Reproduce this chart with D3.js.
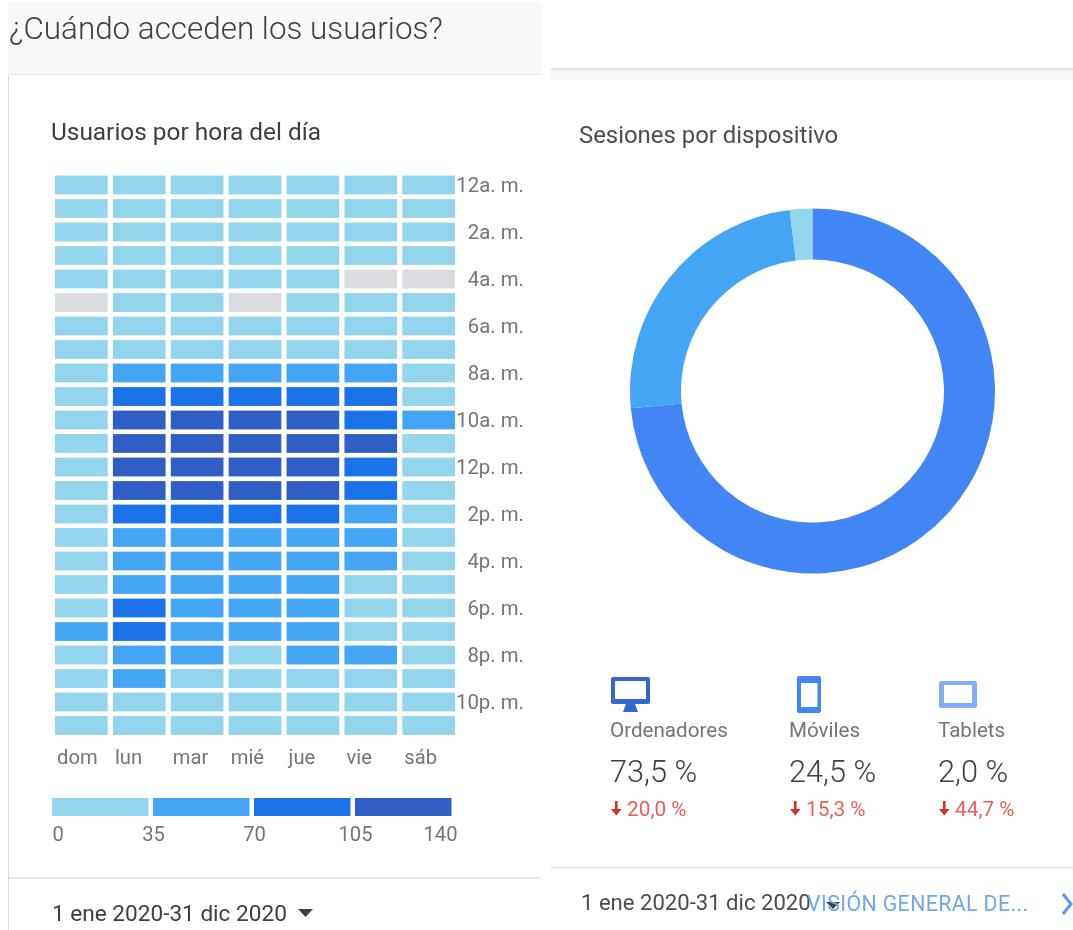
<!DOCTYPE html>
<html><head><meta charset="utf-8">
<script src="https://cdn.jsdelivr.net/npm/d3@7/dist/d3.min.js"></script>
<style>
html,body{margin:0;padding:0;background:#fff;overflow:hidden}
svg{display:block;filter:blur(0.4px)}
text{font-family:Roboto,sans-serif}
.axis path,.axis line{display:none}
</style></head><body>
<script>
const days = ["dom","lun","mar","mié","jue","vie","sáb"];
const hourLabels = ["12a. m.","2a. m.","4a. m.","6a. m.","8a. m.","10a. m.","12p. m.","2p. m.","4p. m.","6p. m.","8p. m.","10p. m."];
const hours = d3.range(24);
// users per hour (rows) and weekday (columns); values estimated from the colour bands
const row00 = [14,18,16,17,16,15,14];
const row01 = [10,12,11,12,11,10,10];
const row02 = [8,9,8,9,8,8,7];
const row03 = [5,6,5,5,6,4,3];
const row04 = [3,4,3,3,3,0,0];
const row05 = [0,4,4,0,3,2,3];
const row06 = [5,8,8,7,8,7,4];
const row07 = [9,28,27,26,28,25,8];
const row08 = [12,58,60,57,56,52,14];
const row09 = [15,95,98,96,94,88,20];
const row10 = [24,118,122,120,116,100,40];
const row11 = [22,125,128,124,122,110,26];
const row12 = [18,112,115,113,110,98,22];
const row13 = [16,110,112,109,108,95,18];
const row14 = [20,92,94,90,88,62,17];
const row15 = [19,66,64,65,63,55,15];
const row16 = [18,62,60,58,61,50,14];
const row17 = [17,58,55,54,52,33,13];
const row18 = [16,74,56,52,50,30,12];
const row19 = [36,78,50,48,47,28,14];
const row20 = [15,52,40,33,42,38,15];
const row21 = [14,38,30,32,31,26,16];
const row22 = [12,28,26,25,27,22,15];
const row23 = [11,18,16,17,16,19,14];
const usersByHour = [row00,row01,row02,row03,row04,row05,row06,row07,row08,row09,row10,row11,row12,row13,row14,row15,row16,row17,row18,row19,row20,row21,row22,row23];
const legendTicks = [0,35,70,105,140];
const legendColors = ["#93d5ed","#45a5f5","#1a73e8","#2f5ec4"];
const noDataColor = "#dadce0";

const devices = ["Ordenadores","Móviles","Tablets"];
const deviceShare = [73.5,24.5,2.0];
const deviceShareLabels = ["73,5 %","24,5 %","2,0 %"];
const deviceChangeLabels = ["20,0 %","15,3 %","44,7 %"];
const donutColors = ["#4285f4","#45a5f5","#93d5ed"];
const dateRange = "1 ene 2020-31 dic 2020";

const svg = d3.select("body").append("svg").attr("width",1073).attr("height",930);

// panels
svg.append("rect").attr("x",8).attr("y",2).attr("width",533).attr("height",73).attr("fill","#f8f9fa");
svg.append("rect").attr("x",9).attr("y",75).attr("width",532).attr("height",855).attr("fill","#fff");
svg.append("line").attr("x1",9).attr("x2",541).attr("y1",74.5).attr("y2",74.5).attr("stroke","#e6e8ea");
svg.append("line").attr("x1",8.5).attr("x2",8.5).attr("y1",75).attr("y2",930).attr("stroke","#dcdcdc");
svg.append("line").attr("x1",9).attr("x2",541).attr("y1",878).attr("y2",878).attr("stroke","#e4e4e4").attr("stroke-width",1.5);
svg.append("rect").attr("x",551).attr("y",68).attr("width",522).attr("height",2).attr("fill","#dfe1e4");
svg.append("rect").attr("x",551).attr("y",70).attr("width",522).attr("height",10).attr("fill","#f5f6f7");
svg.append("line").attr("x1",551).attr("x2",1073).attr("y1",867.5).attr("y2",867.5).attr("stroke","#e4e4e4").attr("stroke-width",1.5);

svg.append("text").attr("x",9).attr("y",39).attr("font-size",31.4).attr("font-weight",300).attr("fill","#3c4043").text("¿Cuándo acceden los usuarios?");
svg.append("text").attr("x",51).attr("y",140).attr("font-size",24.4).attr("fill","#3c4043").text("Usuarios por hora del día");
svg.append("text").attr("x",579).attr("y",143).attr("font-size",23.9).attr("fill","#4a4d50").text("Sesiones por dispositivo");

// heatmap
const x = d3.scaleBand().domain(d3.range(days.length)).range([52.4,457.6]).paddingInner(0.09).paddingOuter(0.045);
const y = d3.scaleBand().domain(hours).range([173.25,737.25]).paddingInner(0.2).paddingOuter(0.1);
const color = d3.scaleThreshold().domain([1,35,70,105]).range([noDataColor,...legendColors]);
const cells = hours.flatMap(h => days.map((d,i)=>({h,i,v:usersByHour[h][i]})));
svg.append("g").selectAll("rect").data(cells).join("rect")
  .attr("x",d=>x(d.i)).attr("y",d=>y(d.h)).attr("width",x.bandwidth()).attr("height",y.bandwidth())
  .attr("fill",d=>color(d.v));

const hourAxis = d3.axisRight(y).tickValues(hours.filter(h=>h%2===0)).tickSize(0).tickPadding(0)
  .tickFormat(h=>hourLabels[h/2]);
const hourG = svg.append("g").attr("class","axis").attr("transform","translate(524,0)").call(hourAxis);
hourG.selectAll("text").attr("text-anchor","end").attr("font-size",20.4).attr("fill","#757575").style("font-family","Roboto");

const dayG = svg.append("g").attr("class","axis").attr("transform","translate(0,750)")
  .call(d3.axisBottom(x).tickSize(0).tickPadding(0).tickFormat(i=>days[i]));
dayG.selectAll("text").attr("text-anchor","start").attr("dx",-24.3).attr("font-size",20.2).attr("fill","#757575").style("font-family","Roboto");

// legend
const lx = d3.scaleLinear().domain([0,140]).range([52,456]);
svg.append("g").selectAll("rect").data(legendColors).join("rect")
  .attr("x",(d,i)=>lx(legendTicks[i])).attr("y",798)
  .attr("width",(d,i)=>lx(legendTicks[i+1])-lx(legendTicks[i])-4.5).attr("height",18).attr("fill",d=>d);
const legG = svg.append("g").attr("class","axis").attr("transform","translate(0,827)")
  .call(d3.axisBottom(lx).tickValues(legendTicks).tickSize(0).tickPadding(0));
legG.selectAll("text").attr("font-size",20.2).attr("fill","#757575").style("font-family","Roboto")
  .attr("text-anchor",(d,i)=>i===0?"start":(i===4?"end":"middle"))
  .attr("dx",(d,i)=>i===4?1:0);

// footers
svg.append("text").attr("x",52).attr("y",921).attr("font-size",22.6).attr("fill","#3c4043").text(dateRange);
svg.append("path").attr("d","M298,909h15l-7.5,8z").attr("fill","#3c4043");
svg.append("text").attr("x",581).attr("y",910).attr("font-size",22.1).attr("fill","#4a4d50").text(dateRange);
svg.append("path").attr("d","M826,902h14l-7,7z").attr("fill","#3c4043");
svg.append("text").attr("x",807).attr("y",911).attr("font-size",21.3).attr("letter-spacing",0.4).attr("fill","#6fa8e8").text("VISIÓN GENERAL DE...");
svg.append("path").attr("d","M1063,894l8,10l-8,10").attr("fill","none").attr("stroke","#5b9be6").attr("stroke-width",3);

// donut
const pie = d3.pie().sort(null)(deviceShare);
const arc = d3.arc().innerRadius(131.5).outerRadius(182.5);
svg.append("g").attr("transform","translate(812.5,391)").selectAll("path").data(pie).join("path")
  .attr("d",arc).attr("fill",(d,i)=>donutColors[i]);

// device stats
const statX = d3.scaleOrdinal().domain(devices).range([610,789,938]);
const stats = svg.append("g").selectAll("g").data(devices).join("g").attr("transform",d=>`translate(${statX(d)},0)`);
stats.append("text").attr("y",737).attr("font-size",20.6).attr("fill","#757575").text(d=>d);
stats.append("text").attr("y",782).attr("font-size",30.7).attr("font-weight",300).attr("fill","#3c4043").text((d,i)=>deviceShareLabels[i]);
stats.append("text").attr("x",17).attr("y",816).attr("font-size",20.8).attr("fill","#e8605a").text((d,i)=>deviceChangeLabels[i]);
stats.append("path").attr("d","M5,801h2.6v8h4l-5.3,6.5l-5.3,-6.5h4z").attr("fill","#d93025");

// icons
const ic = svg.append("g");
ic.append("path").attr("fill-rule","evenodd").attr("fill","#3565d0")
  .attr("d","M613,677h35a2,2 0 0 1 2,2v23a2,2 0 0 1 -2,2h-35a2,2 0 0 1 -2,-2v-23a2,2 0 0 1 2,-2zM615,681v18h31v-18zM626,704h9l3,8h-15z");
ic.append("path").attr("fill-rule","evenodd").attr("fill","#4285f4")
  .attr("d","M799,676h20a2,2 0 0 1 2,2v33a2,2 0 0 1 -2,2h-20a2,2 0 0 1 -2,-2v-33a2,2 0 0 1 2,-2zM801,683v24h16.5v-24z");
ic.append("path").attr("fill-rule","evenodd").attr("fill","#82adf7")
  .attr("d","M941,681h34a2,2 0 0 1 2,2v23a2,2 0 0 1 -2,2h-34a2,2 0 0 1 -2,-2v-23a2,2 0 0 1 2,-2zM944,685v18h28v-18z");
</script></body></html>
